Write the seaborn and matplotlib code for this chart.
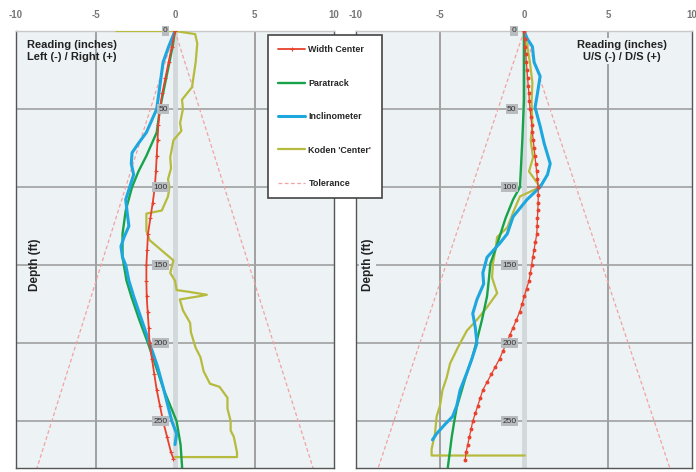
import matplotlib
matplotlib.use('Agg')
import matplotlib.pyplot as plt
import seaborn as sns
import pandas as pd

# Left panel (Left (-) / Right (+)) readings, inches vs depth (ft)
l_width_depth = [0, 10, 20, 30, 40, 50, 60, 70, 80, 90, 100, 110, 120, 130, 140, 150,
                 160, 170, 180, 190, 200, 210, 220, 230, 240, 250, 260, 270, 274]
l_width_val = [0, -0.2, -0.4, -0.6, -0.8, -0.95, -1.05, -1.1, -1.15, -1.2, -1.27, -1.4,
               -1.55, -1.7, -1.75, -1.8, -1.8, -1.78, -1.72, -1.65, -1.6, -1.45, -1.3,
               -1.15, -0.95, -0.75, -0.5, -0.25, -0.1]

l_para_depth = [0, 10, 20, 30, 40, 50, 65, 80, 90, 100, 115, 130, 145, 160, 170, 185,
                200, 215, 230, 250, 265, 280]
l_para_val = [0, -0.15, -0.35, -0.55, -0.75, -0.95, -1.15, -1.8, -2.3, -2.7, -3.1, -3.3,
              -3.3, -3.05, -2.75, -2.25, -1.7, -1.2, -0.7, 0.1, 0.35, 0.45]

l_incl_depth = [0, 10, 20, 35, 50, 65, 72, 78, 85, 92, 100, 108, 117, 125, 132, 138,
                145, 150, 160, 170, 185, 200, 215, 230, 250, 258, 265]
l_incl_val = [0, -0.4, -0.75, -0.95, -1.15, -1.8, -2.3, -2.7, -2.75, -2.6, -2.85, -3.1,
              -3.0, -2.9, -3.2, -3.4, -3.3, -3.1, -2.9, -2.6, -2.1, -1.6, -1.1, -0.7,
              -0.2, 0.1, 0.0]

l_koden_depth = [0, 0, 2, 8, 20, 36, 44, 50, 59, 64, 70, 81, 88, 95, 100, 106, 115, 117,
                 128, 134, 147, 155, 160, 166, 167, 169, 170, 172, 179, 187, 193, 198,
                 203, 209, 218, 222, 226, 228, 235, 242, 250, 256, 260, 265, 270, 273, 273]
l_koden_val = [-3.7, 0, 1.27, 1.4, 1.3, 1.07, 0.44, 0.5, 0.32, 0.4, -0.1, -0.3, -0.25,
               -0.44, -0.35, -0.44, -0.83, -1.8, -1.8, -1.6, -0.1, -0.3, 0.0, 0.1, 0.8,
               2.0, 1.5, 0.3, 0.5, 0.95, 1.0, 1.15, 1.3, 1.6, 1.8, 2.0, 2.2, 2.8, 3.3,
               3.3, 3.5, 3.5, 3.7, 3.8, 3.9, 3.9, 0]

# Right panel (U/S (-) / D/S (+)) readings
r_width_depth = list(range(0, 276, 5))
r_width_val = [0, 0.03, 0.07, 0.1, 0.14, 0.18, 0.21, 0.25, 0.29, 0.32, 0.36, 0.41, 0.46,
               0.5, 0.55, 0.6, 0.65, 0.7, 0.75, 0.8, 0.84, 0.85, 0.84, 0.82, 0.8, 0.78,
               0.76, 0.68, 0.6, 0.52, 0.45, 0.38, 0.3, 0.15, 0.02, -0.12, -0.26, -0.45,
               -0.65, -0.85, -1.05, -1.25, -1.45, -1.7, -1.95, -2.2, -2.45, -2.6, -2.75,
               -2.9, -3.05, -3.15, -3.25, -3.35, -3.45, -3.5]

r_para_depth = [0, 20, 44, 70, 100, 108, 120, 130, 140, 149, 160, 170, 185, 198, 210,
                219, 230, 241, 250, 260, 281]
r_para_val = [0, 0, 0, -0.1, -0.24, -0.65, -1.1, -1.4, -1.7, -2.0, -2.1, -2.2, -2.5,
              -2.8, -3.1, -3.4, -3.7, -4.0, -4.15, -4.3, -4.55]

r_incl_depth = [0, 5, 10, 20, 29, 40, 49, 61, 72, 85, 92, 100, 108, 119, 130, 136, 145,
                155, 162, 172, 181, 190, 200, 210, 219, 230, 240, 247, 252, 258, 262]
r_incl_val = [0, 0.2, 0.5, 0.6, 0.96, 0.8, 0.66, 0.96, 1.2, 1.56, 1.4, 0.96, 0.18,
              -0.65, -1.0, -1.44, -2.2, -2.45, -2.4, -2.8, -3.05, -2.9, -2.8, -3.1, -3.4,
              -3.8, -4.0, -4.25, -4.7, -5.2, -5.45]

r_koden_depth = [0, 10, 20, 33, 45, 61, 70, 81, 90, 100, 106, 115, 126, 132, 140, 149,
                 158, 168, 177, 185, 192, 202, 213, 222, 230, 240, 247, 258, 268, 272, 272]
r_koden_val = [0, 0.2, 0.35, 0.5, 0.45, 0.5, 0.4, 0.54, 0.3, 0.96, -0.24, -0.6, -1.0,
               -1.6, -1.7, -1.85, -1.9, -1.6, -2.2, -2.8, -3.4, -3.9, -4.4, -4.6, -4.85,
               -5.0, -5.2, -5.3, -5.5, -5.5, 0.05]

tol_depth = [0, 285]
tol_rate = 0.031  # inches per ft

x_ticks = [-10, -5, 0, 5, 10]
depth_ticks = [0, 50, 100, 150, 200, 250]

c_width = '#e8412c'
c_para = '#17a34a'
c_incl = '#1ea6de'
c_koden = '#b6bb3d'
c_tol = '#f2a2a2'

sns.set_style('white')
plt.rcParams['font.family'] = ['Liberation Sans', 'DejaVu Sans']

fig = plt.figure(figsize=(6.96, 4.72), dpi=100)
W, H = 696, 472
ax1 = fig.add_axes([16 / W, 1 - 468 / H, (334 - 16) / W, (468 - 31) / H])
ax2 = fig.add_axes([356 / W, 1 - 468 / H, (692 - 356) / W, (468 - 31) / H])


def draw_panel(ax, width, para, incl, koden, wmarker, wsize, wlw):
    ax.set_facecolor('#edf2f5')
    for d in depth_ticks[1:]:
        ax.axhline(d, color='#a0a0a0', lw=1.2, zorder=1)
    for t in [-5, 5]:
        ax.axvline(t, color='#a0a0a0', lw=1.4, zorder=1)
    ax.axvline(0, color='#d3d8db', lw=3.5, zorder=1)

    tol = pd.DataFrame({'depth': tol_depth, 'x': [tol_rate * d for d in tol_depth]})
    ax.plot(tol['x'], tol['depth'], color=c_tol, lw=0.9, ls=(0, (3, 2)), zorder=2,
            label='Tolerance')
    ax.plot(-tol['x'], tol['depth'], color=c_tol, lw=0.9, ls=(0, (3, 2)), zorder=2)

    sns.lineplot(x=koden[1], y=koden[0], sort=False, estimator=None, ax=ax,
                 color=c_koden, lw=1.6, zorder=3, label="Koden 'Center'")
    sns.lineplot(x=para[1], y=para[0], sort=False, estimator=None, ax=ax,
                 color=c_para, lw=1.7, zorder=4, label='Paratrack')
    sns.lineplot(x=incl[1], y=incl[0], sort=False, estimator=None, ax=ax,
                 color=c_incl, lw=2.2, zorder=5, label='Inclinometer')
    sns.lineplot(x=width[1], y=width[0], sort=False, estimator=None, ax=ax,
                 color=c_width, lw=wlw, ls='-', marker=wmarker, markersize=wsize,
                 mew=0.8, mec=c_width, mfc=c_width, zorder=6, label='Width Center')

    ax.set_xlim(-10, 10)
    ax.set_ylim(280, 0)
    ax.xaxis.tick_top()
    ax.set_xticks(x_ticks)
    ax.set_xticklabels([str(t) for t in x_ticks], color='#777777', fontsize=7,
                       fontweight='bold')
    ax.tick_params(axis='x', length=0, pad=8)
    ax.set_yticks([])
    ax.set_xlabel('')
    ax.set_ylabel('')
    for d in depth_ticks:
        ax.text(-0.45, d, str(d), ha='right', va='center', fontsize=6, color='#333333',
                zorder=7, bbox=dict(boxstyle='square,pad=0.15', fc='#b9bcbe', ec='none'))
    for s in ax.spines.values():
        s.set_color('#555555')
        s.set_linewidth(1.0)
    ax.spines['top'].set_color('#c8c8c8')
    ax.get_legend().remove()


draw_panel(ax1, (l_width_depth, l_width_val), (l_para_depth, l_para_val),
           (l_incl_depth, l_incl_val), (l_koden_depth, l_koden_val), '+', 3, 1.3)
draw_panel(ax2, (r_width_depth, r_width_val), (r_para_depth, r_para_val),
           (r_incl_depth, r_incl_val), (r_koden_depth, r_koden_val), 'o', 2.0, 0.9)

ax1.text(-9.3, 13, 'Reading (inches)\nLeft (-) / Right (+)', ha='left', va='center',
         fontsize=8, fontweight='bold', color='#222222', linespacing=1.2, zorder=8)
ax2.text(5.8, 13, 'Reading (inches)\nU/S (-) / D/S (+)', ha='center', va='center',
         fontsize=8, fontweight='bold', color='#222222', linespacing=1.2, zorder=8,
         bbox=dict(boxstyle='square,pad=0.2', fc='#edf2f5', ec='none'))
ax1.text(-8.8, 150, 'Depth (ft)', rotation=90, ha='center', va='center', fontsize=8.5,
         fontweight='bold', color='#222222')
ax2.text(-9.3, 150, 'Depth (ft)', rotation=90, ha='center', va='center', fontsize=8.5,
         fontweight='bold', color='#222222',
         bbox=dict(boxstyle='square,pad=0.2', fc='#edf2f5', ec='none'))

handles, labels = ax1.get_legend_handles_labels()
order = ['Width Center', 'Paratrack', 'Inclinometer', "Koden 'Center'", 'Tolerance']
hmap = dict(zip(labels, handles))
leg = fig.legend([hmap[k] for k in order], order, loc='upper left',
                 bbox_to_anchor=(268 / W, 1 - 35 / H), frameon=True, fancybox=False,
                 framealpha=1, edgecolor='#444444', facecolor='white',
                 prop={'size': 6.4, 'weight': 'bold'}, labelspacing=2.75,
                 handlelength=3.0, handletextpad=0.4, borderpad=1.15, borderaxespad=0)
leg.set_zorder(20)
leg.get_frame().set_linewidth(1.2)

fig.savefig('out.png', dpi=100)
